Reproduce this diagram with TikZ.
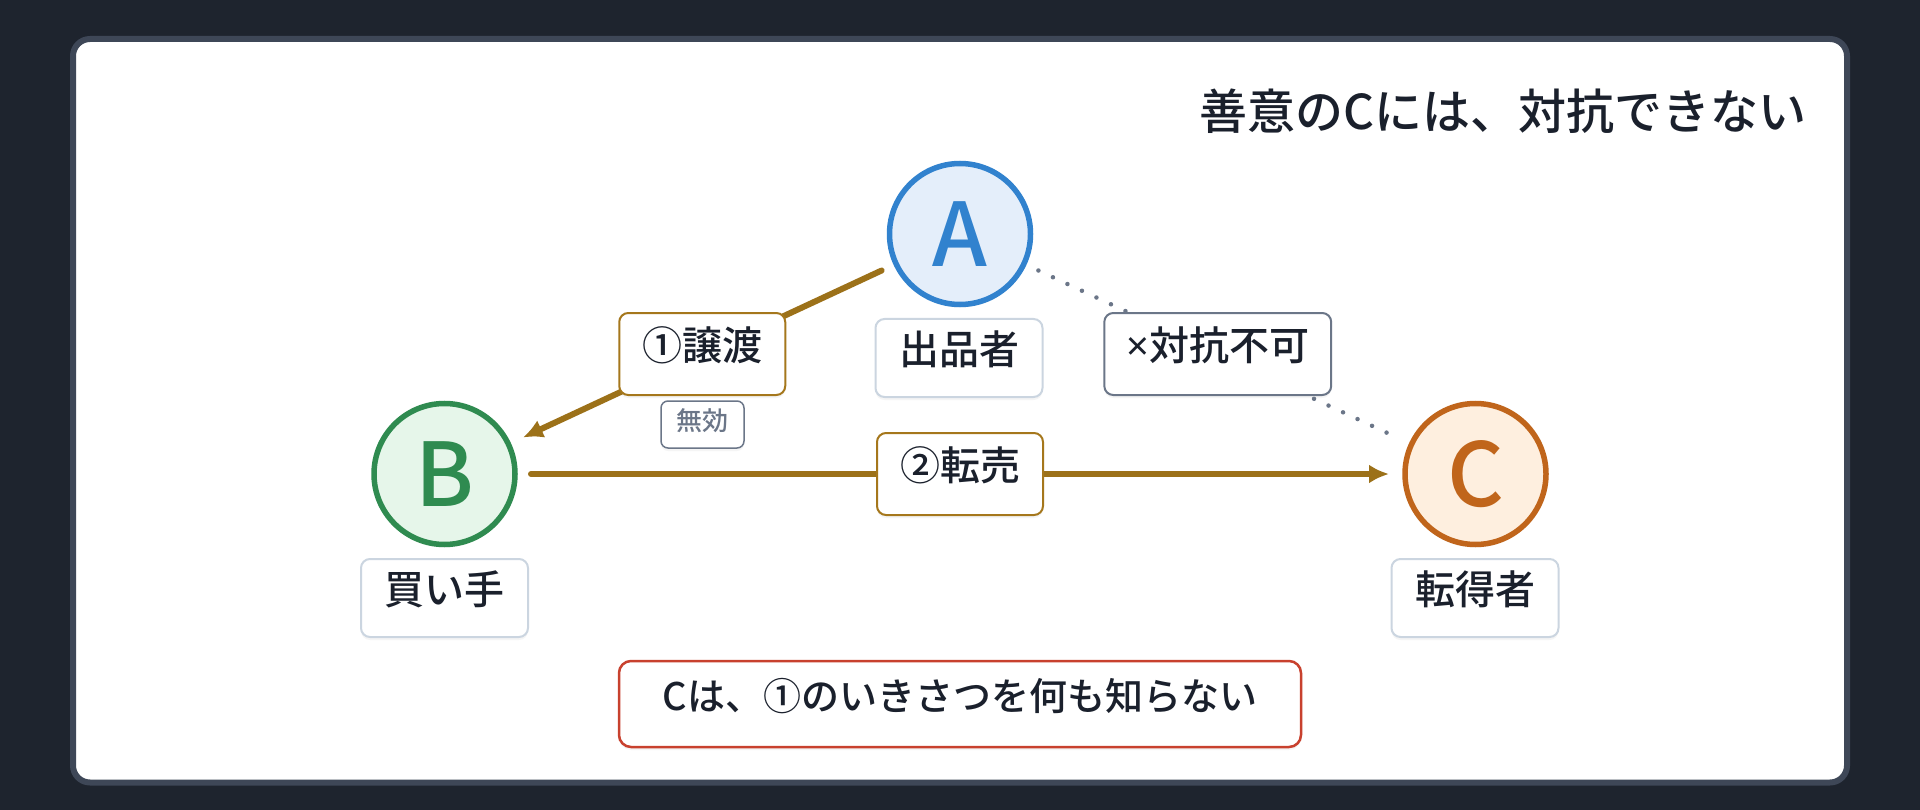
\documentclass[tikz,border=0pt]{standalone}
\usepackage{fontspec}
\setmainfont{Noto Sans CJK JP Medium}
\newfontfamily\latinfont{Noto Sans}
\usepackage{tikz}
\usetikzlibrary{arrows.meta, shadows}
\definecolor{bgcol}{HTML}{1E242E}
\definecolor{framecol}{HTML}{3E4757}
\definecolor{inkcol}{HTML}{1A202C}
\definecolor{softcol}{HTML}{CBD5E0}
\definecolor{slatecol}{HTML}{6B7688}
\definecolor{goldcol}{HTML}{9C7119}
\definecolor{goldbox}{HTML}{A5771C}
\definecolor{redcol}{HTML}{C8412E}
\definecolor{acol}{HTML}{3182CE}
\definecolor{afill}{HTML}{E4EEFA}
\definecolor{bcol}{HTML}{2F8B50}
\definecolor{bfill}{HTML}{E6F6EA}
\definecolor{ccol}{HTML}{C0651B}
\definecolor{cfill}{HTML}{FEEFDF}
\tikzset{
  softshadow/.style={drop shadow={opacity=0.08, shadow xshift=0pt, shadow yshift=-3pt}},
  party/.style={circle, line width=5.5pt, minimum size=141pt, inner sep=0pt, outer sep=16pt,
    font=\fontsize{88}{88}\selectfont, softshadow},
  rolebox/.style={draw=softcol, line width=2pt, fill=white, rounded corners=9pt, solid,
    minimum width=167pt, minimum height=78pt, inner sep=0pt, text=inkcol,
    font=\fontsize{40}{48}\selectfont, text height=1.24em, text depth=0em, softshadow},
  edgebox/.style={rolebox, draw=goldbox, minimum width=166pt, minimum height=82pt, inner xsep=22pt},
  tagbox/.style={rolebox, draw=slatecol, line width=1.5pt, rounded corners=7pt, text=slatecol,
    minimum width=83pt, minimum height=47pt, font=\fontsize{26}{30}\selectfont},
  notebox/.style={rolebox, draw=redcol, line width=2.5pt, rounded corners=12pt,
    minimum width=682pt, minimum height=86pt, font=\fontsize{38}{46}\selectfont},
  headline/.style={anchor=east, inner sep=0pt, text=inkcol, font=\fontsize{48}{58}\selectfont,
    text height=1.24em, text depth=0em},
  deal/.style={draw=goldcol, line width=6pt, line cap=round, -{Latex[length=20pt,width=19pt]}},
  nolink/.style={draw=slatecol, line width=4.5pt, line cap=round, dash pattern=on 0pt off 16pt}
}
\begin{document}
\begin{tikzpicture}[x=1pt, y=-1pt]
\useasboundingbox (0,0) rectangle (1920,810);
\fill[bgcol] (0,0) rectangle (1920,810);
\draw[framecol, line width=6pt, fill=white, rounded corners=17pt] (73,39) rectangle (1847,782.5);
\node[headline] (head) at (1807,123) {善意のCには、対抗できない};

\node[party, draw=acol, fill=afill, text=acol] (A) at (960,234) {A};
\node[party, draw=bcol, fill=bfill, text=bcol] (B) at (444.5,474) {B};
\node[party, draw=ccol, fill=cfill, text=ccol] (C) at (1475.5,474) {C};

\node[rolebox] (seller) at (959,358) {出品者};
\node[rolebox] (buyer) at (444.5,598) {買い手};
\node[rolebox] (resaler) at (1475,598) {転得者};

\draw[nolink] (A) -- node[edgebox, draw=slatecol] (noclaim) {{\latinfont ×}対抗不可} (C);
\draw[deal] (A) -- node[edgebox] (transfer) {①譲渡} (B);
\draw[deal] (B) -- node[edgebox] (resale) {②転売} (C);
\node[tagbox] (void) at (702.5,424.5) {無効};

\node[notebox] (note) at (960,704) {Cは、①のいきさつを何も知らない};
\end{tikzpicture}
\end{document}
